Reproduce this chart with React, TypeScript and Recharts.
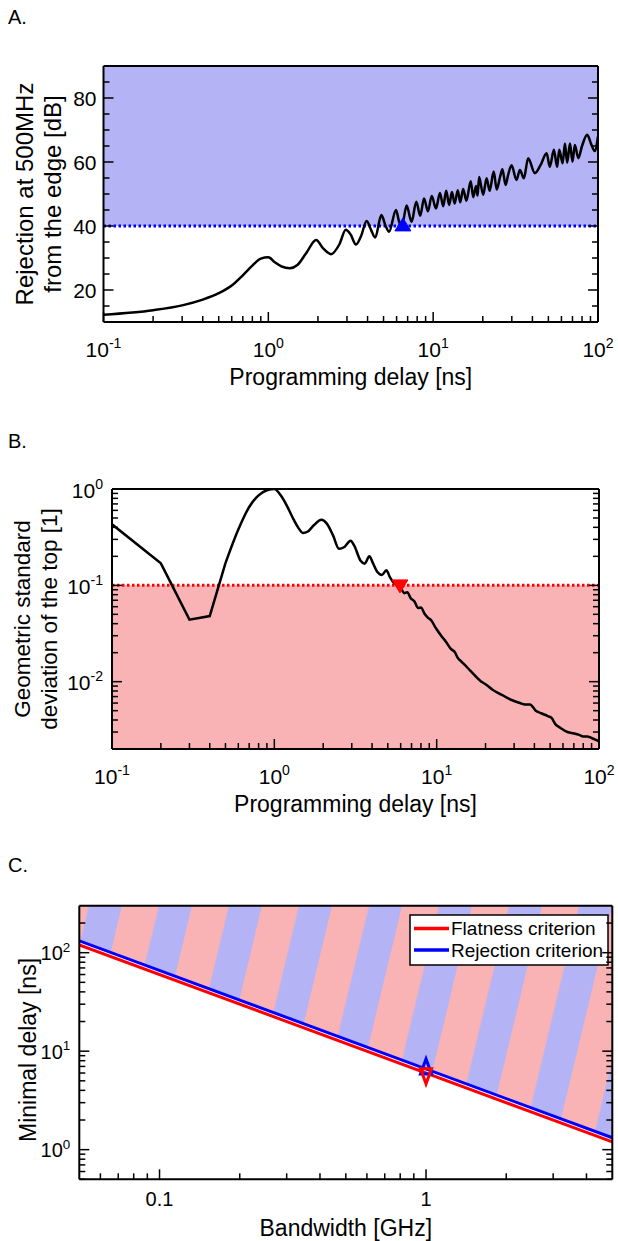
import React from 'react';
import {
  ComposedChart,
  Line,
  Area,
  XAxis,
  YAxis,
  ReferenceArea,
  ReferenceLine,
  ReferenceDot,
  Label,
} from 'recharts';

const FONT = '"Liberation Sans", Arial, Helvetica, sans-serif';
const BLUE = '#0000ff';
const RED = '#ff0000';
const BLUE_FILL = '#b3b3f6';
const RED_FILL = '#f9b3b4';
const FRAME = { stroke: '#000', strokeWidth: 2 };

// ---- A. rejection at 500 MHz from the edge vs programming delay ----
const delayA = [
  0.1, 0.2, 0.3, 0.4, 0.5, 0.6, 0.7, 0.8, 0.9, 1.0,
  1.1, 1.2, 1.35, 1.5, 1.7, 1.95, 2.15, 2.4, 2.7, 2.95,
  3.15, 3.4, 3.65, 3.95, 4.2, 4.45, 4.85, 5.15, 5.4, 5.95,
  6.2, 6.45, 6.9, 7.4, 7.9, 8.35, 8.8, 9.3, 9.8, 10.4,
  11.0, 11.5, 12.0, 12.5, 13.0, 13.5, 14.1, 14.6, 15.2, 15.9,
  16.9, 17.5, 18.2, 18.6, 19.0, 20.1, 21.1, 22.0, 23.3, 24.3,
  25.5, 26.3, 27.5, 28.5, 29.9, 32.0, 33.6, 35.5, 37.7, 41.4,
  44.8, 48.8, 51.0, 54.0, 56.5, 58.2, 61.0, 63.0, 65.0, 67.6,
  70.0, 72.4, 75.9, 80.0, 86.0, 91.0, 95.5, 100,
];
const rejectionA = [
  12.3, 13.7, 15.2, 17.0, 19.0, 21.4, 24.6, 27.6, 29.8, 30.2,
  28.6, 27.4, 26.8, 27.8, 31.6, 35.6, 33.0, 31.2, 34.3, 38.8,
  37.4, 34.2, 36.8, 41.6, 38.8, 36.4, 43.4, 40.0, 38.2, 45.0,
  41.5, 39.6, 46.4, 41.3, 47.6, 43.2, 48.6, 44.6, 49.4, 45.5,
  50.3, 46.2, 51.0, 46.6, 50.6, 47.0, 51.2, 47.4, 51.6, 47.9,
  54.0, 49.0, 52.5, 49.5, 55.3, 49.8, 54.9, 51.0, 57.0, 51.4,
  55.5, 57.7, 52.8, 56.0, 59.0, 54.4, 57.5, 54.9, 61.2, 56.5,
  59.0, 62.7, 58.5, 63.8, 58.5, 63.8, 59.6, 65.8, 59.8, 65.8,
  60.1, 65.3, 61.2, 65.0, 68.5, 65.5, 63.4, 68.0,
];
const rejectionLimitA = 40;
const rejectionTopA = 90;
const markerA = { delay: 6.55, value: 40.5 };

// ---- B. geometric standard deviation of the top vs programming delay ----
const delayB = [
  0.1, 0.2, 0.3, 0.4, 0.5, 0.6, 0.7, 0.8, 0.9, 1.0,
  1.1, 1.2, 1.3, 1.4, 1.5, 1.6, 1.75, 1.95, 2.1, 2.3,
  2.5, 2.7, 2.95, 3.1, 3.4, 3.6, 3.85, 4.05, 4.3, 4.6,
  4.9, 5.15, 5.4, 5.7, 6.0, 6.3, 6.6, 6.9, 7.3, 7.7,
  8.0, 8.4, 8.85, 9.3, 9.7, 10.0, 10.5, 11.0, 11.4, 12.2,
  13.0, 13.4, 14.3, 15.0, 15.9, 17.0, 18.7, 20.0, 22.0, 24.0,
  26.0, 27.6, 30.0, 32.6, 35.0, 37.6, 40.8, 44.0, 48.3, 51.0,
  54.0, 58.0, 64.0, 70.0, 75.5, 80.0, 84.5, 90.0, 95.0, 100,
];
const flatnessB = [
  0.43, 0.169, 0.044, 0.048, 0.17, 0.38, 0.65, 0.86, 0.97, 1.0,
  0.85, 0.66, 0.5, 0.4, 0.35, 0.36, 0.42, 0.48, 0.44, 0.33,
  0.24, 0.25, 0.29, 0.26, 0.18, 0.168, 0.2, 0.17, 0.138, 0.128,
  0.143, 0.122, 0.108, 0.1, 0.094, 0.083, 0.085, 0.074, 0.068, 0.058,
  0.059, 0.051, 0.046, 0.043, 0.038, 0.035, 0.031, 0.028, 0.026, 0.022,
  0.02, 0.018, 0.016, 0.0148, 0.0133, 0.0118, 0.0101, 0.0094, 0.0083, 0.0076,
  0.0071, 0.0067, 0.0063, 0.006, 0.0058, 0.0058, 0.005, 0.0047, 0.0044, 0.0042,
  0.0036, 0.0033, 0.003, 0.0029, 0.0028, 0.0027, 0.0027, 0.0026, 0.0025, 0.0024,
];
const flatnessLimitB = 0.1;
const flatnessBottomB = 0.002;
const markerB = { delay: 5.94, value: 0.0975 };

// ---- C. minimal delay vs bandwidth ----
const bandwidthC = [0.05, 5];
const flatnessDelayC = [120, 1.2];
const rejectionDelayC = [132, 1.32];
const stripeTopC = [300, 300];
const markerRejC = { bw: 1, value: 7.0 };
const markerFlatC = { bw: 1, value: 5.55 };

// ---- ticks ----
const delayTicks = [
  0.1, 0.2, 0.3, 0.4, 0.5, 0.6, 0.7, 0.8, 0.9,
  1, 2, 3, 4, 5, 6, 7, 8, 9,
  10, 20, 30, 40, 50, 60, 70, 80, 90, 100,
];
const delayMajors = [0.1, 1, 10, 100];
const delayExps = ['-1', '0', '1', '2'];

const rejectionTicks = [15, 20, 25, 30, 35, 40, 45, 50, 55, 60, 65, 70, 75, 80, 85];
const rejectionMajors = [20, 40, 60, 80];
const rejectionLabels = ['20', '40', '60', '80'];

const gsdTicks = [
  0.003, 0.004, 0.005, 0.006, 0.007, 0.008, 0.009,
  0.01, 0.02, 0.03, 0.04, 0.05, 0.06, 0.07, 0.08, 0.09,
  0.1, 0.2, 0.3, 0.4, 0.5, 0.6, 0.7, 0.8, 0.9, 1,
];
const gsdMajors = [0.01, 0.1, 1];
const gsdExps = ['-2', '-1', '0'];

const bwTicks = [0.06, 0.07, 0.08, 0.09, 0.1, 0.2, 0.3, 0.4, 0.5, 0.6, 0.7, 0.8, 0.9, 1, 2, 3, 4];
const bwMajors = [0.1, 1];
const bwLabels = ['0.1', '1'];

const minDelayTicks = [
  0.5, 0.6, 0.7, 0.8, 0.9,
  1, 2, 3, 4, 5, 6, 7, 8, 9,
  10, 20, 30, 40, 50, 60, 70, 80, 90,
  100, 200,
];
const minDelayMajors = [1, 10, 100];
const minDelayExps = ['0', '1', '2'];

const rowsA = delayA.map((d, i) => ({ delay: d, value: rejectionA[i] }));
const rowsB = delayB.map((d, i) => ({ delay: d, value: flatnessB[i] }));
const rowsC = bandwidthC.map((b, i) => ({
  bw: b,
  flat: flatnessDelayC[i],
  rej: rejectionDelayC[i],
  band: [rejectionDelayC[i], stripeTopC[i]],
}));

const near = (a: number, b: number) => Math.abs(a - b) <= Math.abs(b) * 1e-6;

type LabelFn = (i: number, x: number, y: number) => React.ReactNode;

// inward tick marks, with an optional label on the major ones
function tickMark(side: 'bottom' | 'top' | 'left' | 'right', majors: number[], label?: LabelFn) {
  return (p: any) => {
    const v = Number(p.payload?.value);
    const i = majors.findIndex((m) => near(v, m));
    const len = i >= 0 ? 10 : 6;
    const { x, y } = p;
    const x2 = side === 'left' ? x + len : side === 'right' ? x - len : x;
    const y2 = side === 'bottom' ? y - len : side === 'top' ? y + len : y;
    return (
      <g>
        <line x1={x} y1={y} x2={x2} y2={y2} stroke="#000" strokeWidth={1.5} />
        {i >= 0 && label ? label(i, x, y) : null}
      </g>
    );
  };
}

const Pow = ({ x, y, exp, size, anchor }: { x: number; y: number; exp: string; size: number; anchor: 'start' | 'middle' | 'end' }) => (
  <text x={x} y={y} fontFamily={FONT} fontSize={size} textAnchor={anchor} fill="#000">
    10
    <tspan fontSize={size * 0.67} dy={-size * 0.42}>{exp}</tspan>
  </text>
);

const plainText = (x: number, y: number, s: string, size: number, anchor: 'start' | 'middle' | 'end') => (
  <text x={x} y={y} fontFamily={FONT} fontSize={size} textAnchor={anchor} fill="#000">{s}</text>
);

const triangle = (dir: 'up' | 'down', color: string, w: number, h: number, filled: boolean) => (p: any) => {
  const { cx, cy } = p;
  const pts =
    dir === 'up'
      ? `${cx - w / 2},${cy + h / 2} ${cx + w / 2},${cy + h / 2} ${cx},${cy - h / 2}`
      : `${cx - w / 2},${cy - h / 2} ${cx + w / 2},${cy - h / 2} ${cx},${cy + h / 2}`;
  return (
    <polygon
      points={pts}
      fill={filled ? color : 'none'}
      stroke={color}
      strokeWidth={filled ? 1 : 3}
    />
  );
};

const axisBase = {
  tickSize: 0,
  tickMargin: 0,
  tickLine: false,
  axisLine: FRAME,
  interval: 0 as const,
  allowDataOverflow: true,
  type: 'number' as const,
};

const decorA = () => (
  <g fontFamily={FONT} fill="#000">
    <text x={8} y={24} fontSize={20}>A.</text>
    <text x={350.8} y={385} fontSize={23} textAnchor="middle">Programming delay [ns]</text>
    <text transform="translate(33 194) rotate(-90)" fontSize={24} textAnchor="middle">Rejection at 500MHz</text>
    <text transform="translate(61 194) rotate(-90)" fontSize={24} textAnchor="middle">from the edge [dB]</text>
  </g>
);

const decorB = () => (
  <g fontFamily={FONT} fill="#000">
    <text x={8} y={33} fontSize={20}>B.</text>
    <text x={355.5} y={397} fontSize={23} textAnchor="middle">Programming delay [ns]</text>
    <text transform="translate(29.5 204) rotate(-90)" fontSize={22.5} textAnchor="middle">Geometric standard</text>
    <text transform="translate(56.5 204) rotate(-90)" fontSize={22.5} textAnchor="middle">deviation of the top [1]</text>
  </g>
);

const decorC = () => (
  <g fontFamily={FONT} fill="#000">
    <text x={8} y={41.7} fontSize={20}>C.</text>
    <text x={345.8} y={406} fontSize={23} textAnchor="middle">Bandwidth [GHz]</text>
    <text transform="translate(36 220) rotate(-90)" fontSize={23} textAnchor="middle">Minimal delay [ns]</text>
    <rect x={410} y={85} width={198} height={50} fill="#fff" stroke="#000" strokeWidth={1.5} />
    <line x1={414} y1={98.5} x2={449} y2={98.5} stroke={RED} strokeWidth={3.5} />
    <text x={451} y={105.3} fontSize={19}>Flatness criterion</text>
    <line x1={414} y1={120} x2={449} y2={120} stroke={BLUE} strokeWidth={3.5} />
    <text x={451} y={126.8} fontSize={19}>Rejection criterion</text>
  </g>
);

function PanelA() {
  return (
    <ComposedChart width={618} height={400} data={rowsA} margin={{ top: 65, right: 19, bottom: 77, left: 102.5 }}>
      <ReferenceArea x1={0.1} x2={100} y1={rejectionLimitA} y2={rejectionTopA} fill={BLUE_FILL} fillOpacity={1} stroke="none" />
      <ReferenceLine y={rejectionLimitA} stroke={BLUE} strokeWidth={3} strokeDasharray="2.5 2.5" />
      <Line dataKey="value" type="monotone" stroke="#000" strokeWidth={2.5} dot={false} activeDot={false} isAnimationActive={false} />
      <ReferenceDot x={markerA.delay} y={markerA.value} shape={triangle('up', BLUE, 16, 13, true)} />
      <XAxis
        {...axisBase}
        dataKey="delay"
        scale="log"
        domain={[0.1, 100]}
        ticks={delayTicks}
        height={1}
        tick={tickMark('bottom', delayMajors, (i, x, y) => <Pow x={x} y={y + 35} exp={delayExps[i]} size={21} anchor="middle" />)}
      >
        <Label content={decorA} />
      </XAxis>
      <XAxis {...axisBase} xAxisId="top" orientation="top" scale="log" domain={[0.1, 100]} ticks={delayTicks} height={1} tick={tickMark('top', delayMajors)} />
      <YAxis
        {...axisBase}
        domain={[10, 90]}
        ticks={rejectionTicks}
        width={1}
        tick={tickMark('left', rejectionMajors, (i, x, y) => plainText(x - 7, y + 7.5, rejectionLabels[i], 21, 'end'))}
      />
      <YAxis {...axisBase} yAxisId="right" orientation="right" domain={[10, 90]} ticks={rejectionTicks} width={1} tick={tickMark('right', rejectionMajors)} />
    </ComposedChart>
  );
}

function PanelB() {
  return (
    <ComposedChart width={618} height={414} margin={{ top: 73, right: 18, bottom: 79, left: 111 }}>
      <ReferenceArea x1={0.1} x2={100} y1={flatnessBottomB} y2={flatnessLimitB} fill={RED_FILL} fillOpacity={1} stroke="none" />
      <ReferenceLine y={flatnessLimitB} stroke={RED} strokeWidth={3} strokeDasharray="2.5 2.5" />
      <Line data={rowsB.slice(0, 5)} dataKey="value" type="linear" stroke="#000" strokeWidth={2.5} dot={false} activeDot={false} isAnimationActive={false} />
      <Line data={rowsB.slice(4)} dataKey="value" type="monotone" stroke="#000" strokeWidth={2.5} dot={false} activeDot={false} isAnimationActive={false} />
      <ReferenceDot x={markerB.delay} y={markerB.value} shape={triangle('down', RED, 16, 13, true)} />
      <XAxis
        {...axisBase}
        dataKey="delay"
        scale="log"
        domain={[0.1, 100]}
        ticks={delayTicks}
        height={1}
        tick={tickMark('bottom', delayMajors, (i, x, y) => <Pow x={x} y={y + 35} exp={delayExps[i]} size={21} anchor="middle" />)}
      >
        <Label content={decorB} />
      </XAxis>
      <XAxis {...axisBase} xAxisId="top" orientation="top" scale="log" domain={[0.1, 100]} ticks={delayTicks} height={1} tick={tickMark('top', delayMajors)} />
      <YAxis
        {...axisBase}
        scale="log"
        domain={[flatnessBottomB, 1]}
        ticks={gsdTicks}
        width={1}
        tick={tickMark('left', gsdMajors, (i, x, y) => <Pow x={x - 9} y={y + 8.5} exp={gsdExps[i]} size={21} anchor="end" />)}
      />
      <YAxis {...axisBase} yAxisId="right" orientation="right" scale="log" domain={[flatnessBottomB, 1]} ticks={gsdTicks} width={1} tick={tickMark('right', gsdMajors)} />
    </ComposedChart>
  );
}

function PanelC() {
  return (
    <ComposedChart width={618} height={411} data={rowsC} margin={{ top: 74.7, right: 4.7, bottom: 60.7, left: 78.3 }}>
      <defs>
        <pattern id="stripesC" patternUnits="userSpaceOnUse" width={68.1} height={100} patternTransform="rotate(13.5)">
          <rect x={0} y={0} width={68.1} height={100} fill={RED_FILL} />
          <rect x={36} y={0} width={34.05} height={100} fill={BLUE_FILL} />
        </pattern>
      </defs>
      <Area dataKey="band" type="linear" fill="url(#stripesC)" fillOpacity={1} stroke="none" isAnimationActive={false} activeDot={false} />
      <Line dataKey="flat" type="linear" stroke={RED} strokeWidth={3} dot={false} activeDot={false} isAnimationActive={false} />
      <Line dataKey="rej" type="linear" stroke={BLUE} strokeWidth={3} dot={false} activeDot={false} isAnimationActive={false} />
      <ReferenceDot x={markerRejC.bw} y={markerRejC.value} shape={triangle('up', BLUE, 11, 15, false)} />
      <ReferenceDot x={markerFlatC.bw} y={markerFlatC.value} shape={triangle('down', RED, 11, 15, false)} />
      <XAxis
        {...axisBase}
        dataKey="bw"
        scale="log"
        domain={[0.05, 5]}
        ticks={bwTicks}
        height={1}
        tick={tickMark('bottom', bwMajors, (i, x, y) => plainText(x, y + 27, bwLabels[i], 20, 'middle'))}
      >
        <Label content={decorC} />
      </XAxis>
      <XAxis {...axisBase} xAxisId="top" orientation="top" scale="log" domain={[0.05, 5]} ticks={bwTicks} height={1} tick={tickMark('top', bwMajors)} />
      <YAxis
        {...axisBase}
        scale="log"
        domain={[0.5, 300]}
        ticks={minDelayTicks}
        width={1}
        tick={tickMark('left', minDelayMajors, (i, x, y) => <Pow x={x - 9} y={y + 7.5} exp={minDelayExps[i]} size={20} anchor="end" />)}
      />
      <YAxis {...axisBase} yAxisId="right" orientation="right" scale="log" domain={[0.5, 300]} ticks={minDelayTicks} width={1} tick={tickMark('right', minDelayMajors)} />
    </ComposedChart>
  );
}

export default function App() {
  return (
    <div style={{ position: 'absolute', left: 0, top: 0, width: 618, height: 1241, background: '#fff' }}>
      <div style={{ position: 'absolute', left: 0, top: 0 }}>
        <PanelA />
      </div>
      <div style={{ position: 'absolute', left: 0, top: 415 }}>
        <PanelB />
      </div>
      <div style={{ position: 'absolute', left: 0, top: 830 }}>
        <PanelC />
      </div>
    </div>
  );
}
